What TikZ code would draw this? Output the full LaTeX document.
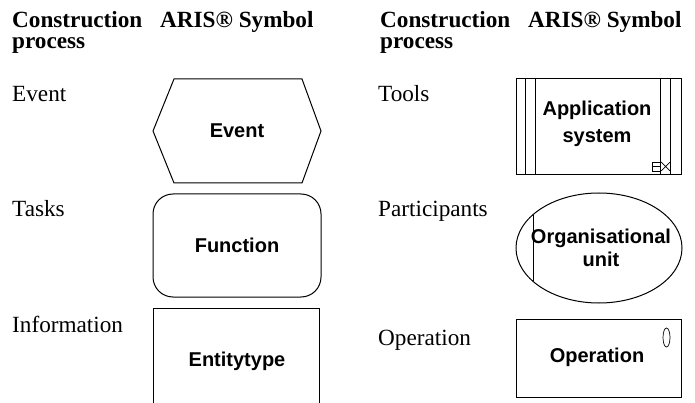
\documentclass[tikz,border=0pt]{standalone}
\usepackage{fontspec}
\setmainfont{Liberation Serif}
\setsansfont{Liberation Sans}
\begin{document}
\begin{tikzpicture}[x=1pt,y=-1pt,
  hdr/.style={anchor=base west,inner sep=0pt,font=\fontsize{23.2}{20}\selectfont\bfseries},
  lbl/.style={anchor=base west,inner sep=0pt,font=\fontsize{23.2}{20}\selectfont},
  sym/.style={inner sep=0pt,align=center,font=\fontsize{20}{23}\selectfont\sffamily\bfseries},
  shp/.style={draw=black,line width=1pt},
  thin/.style={draw=black,line width=0.7pt}]
\useasboundingbox (0,0) rectangle (695,403);
% headers
\node[hdr] (h1a) at (12,28) {Construction};
\node[hdr] (h1b) at (12,49) {process};
\node[hdr] (h2) at (160,28) {ARIS® Symbol};
\node[hdr] (h3a) at (380,28) {Construction};
\node[hdr] (h3b) at (380,49) {process};
\node[hdr] (h4) at (528,28) {ARIS® Symbol};
% row labels
\node[lbl] (lev) at (12,102) {Event};
\node[lbl] (lta) at (12,217) {Tasks};
\node[lbl] (lin) at (12,332) {Information};
\node[lbl] (lto) at (378,102) {Tools};
\node[lbl] (lpa) at (378,217) {Participants};
\node[lbl] (lop) at (378,345) {Operation};
% Event hexagon
\draw[shp] (174,79) -- (302,79) -- (321,131) -- (302,183) -- (174,183) -- (153,131) -- cycle;
\node[sym] (sev) at (237,131) {Event};
% Function
\draw[shp,rounded corners=20pt] (153,194) rectangle (321,297);
\node[sym] (sfu) at (237,245) {Function};
% Entitytype (open at the bottom)
\draw[shp] (153,404) -- (153,308) -- (319,308) -- (319,404);
\node[sym] (sen) at (237,361) {Entitytype};
% Application system
\draw[shp] (516,79) rectangle (681,175);
\foreach \xx in {525,535,660,670} \draw[thin] (\xx,79) -- (\xx,175);
\draw[thin] (652,162) rectangle (660,171) (652,166.5) -- (660,166.5);
\draw[thin] (661,162) -- (670,171) (661,171) -- (670,162);
\node[sym,font=\fontsize{20}{27}\selectfont\sffamily\bfseries] (sap) at (597,124) {Application\\system};
% Organisational unit
\draw[shp] (599,248) ellipse [x radius=83, y radius=55];
\draw[thin] (533,215) -- (533,281);
\node[sym] (sor) at (601,248) {Organisational\\unit};
% Operation
\draw[shp] (516,319) rectangle (681,397);
\draw[thin] (666.5,337.5) ellipse [x radius=3.5, y radius=9.5];
\node[sym] (sop) at (597,357) {Operation};
\end{tikzpicture}
\end{document}
